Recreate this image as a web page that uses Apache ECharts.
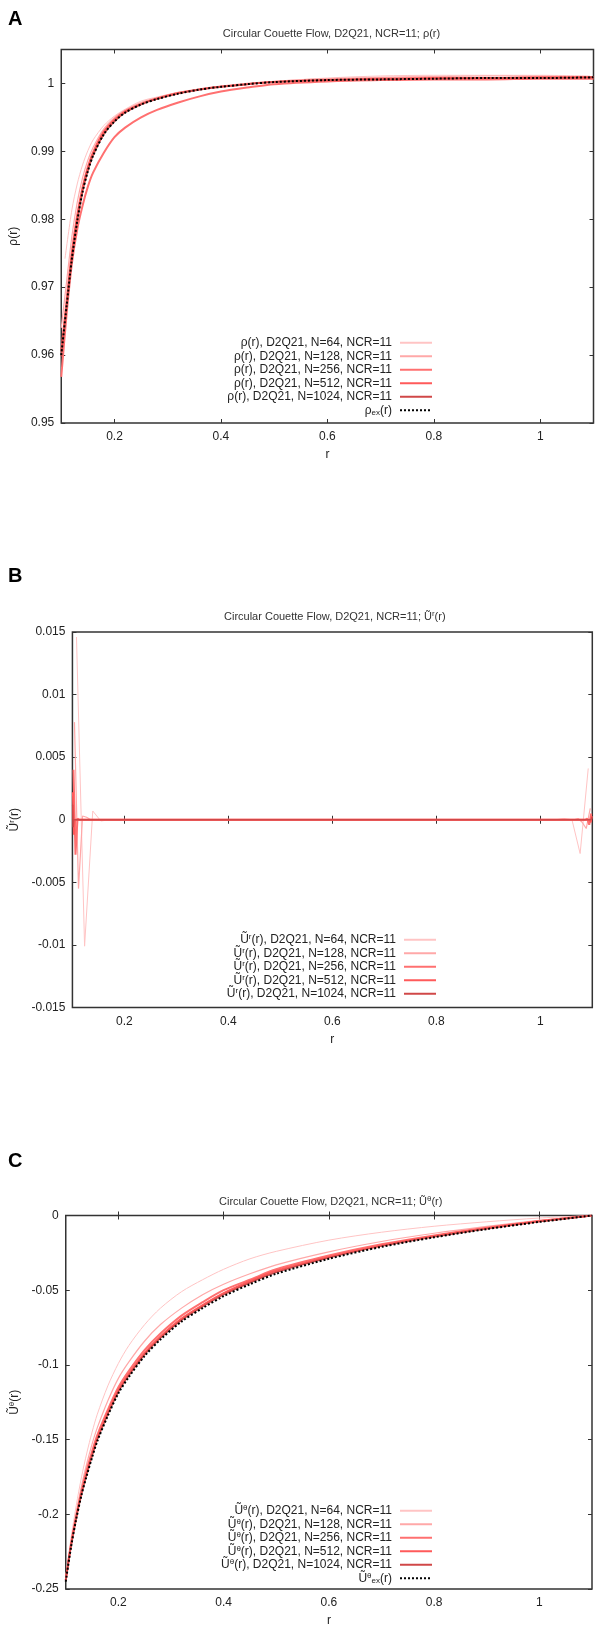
<!DOCTYPE html>
<html><head><meta charset="utf-8">
<script src="https://cdn.jsdelivr.net/npm/echarts@6/dist/echarts.min.js"></script>
<style>html,body{margin:0;padding:0;background:#fff}#c{width:601px;height:1637px}</style>
</head><body><div id="c"></div>
<script>
// ---------- tick labels ----------
const xTicks = [0.2, 0.4, 0.6, 0.8, 1];
const yTicksA = [0.95, 0.96, 0.97, 0.98, 0.99, 1];
const yTicksB = [-0.015, -0.01, -0.005, 0, 0.005, 0.01, 0.015];
const yTicksC = [-0.25, -0.2, -0.15, -0.1, -0.05, 0];

// ---------- panel A : rho(r) ----------
const rA = [0.1, 0.11, 0.12, 0.13, 0.14, 0.15, 0.16, 0.18, 0.2, 0.22, 0.25, 0.28, 0.32, 0.36, 0.4, 0.45, 0.5, 0.6, 0.7, 0.8, 0.9, 1.0, 1.1];
const rA64 = [0.107, 0.12, 0.13, 0.14, 0.15, 0.16, 0.18, 0.2, 0.22, 0.25, 0.28, 0.32, 0.36, 0.4, 0.45, 0.5, 0.6, 0.7, 0.8, 0.9, 1.0, 1.093];
const rhoN64 = [0.9742, 0.9814, 0.9852, 0.9880, 0.9901, 0.9917, 0.9938, 0.9952, 0.9962, 0.9974, 0.9980, 0.9987, 0.9992, 0.9996, 1.0000, 1.0003, 1.0008, 1.0011, 1.0012, 1.0012, 1.0012, 1.0011];
const rhoN128 = [0.9640, 0.9708, 0.9775, 0.9825, 0.9861, 0.9887, 0.9906, 0.9933, 0.9950, 0.9961, 0.9972, 0.9979, 0.9987, 0.9992, 0.9996, 1.0000, 1.0003, 1.0007, 1.0009, 1.0010, 1.0011, 1.0011, 1.0010];
const rhoN256 = [0.9568, 0.9660, 0.9735, 0.9785, 0.9820, 0.9848, 0.9869, 0.9898, 0.9921, 0.9935, 0.9950, 0.9961, 0.9972, 0.9981, 0.9988, 0.9994, 0.9999, 1.0003, 1.0005, 1.0006, 1.0006, 1.0007, 1.0007];
const rhoN512 = [0.9605, 0.9680, 0.9752, 0.9806, 0.9847, 0.9877, 0.9899, 0.9929, 0.9947, 0.9959, 0.9970, 0.9978, 0.9986, 0.9991, 0.9995, 0.9999, 1.0002, 1.0005, 1.0007, 1.0008, 1.0008, 1.0009, 1.0009];
const rhoN1024 = [0.9598, 0.9670, 0.9741, 0.9797, 0.9840, 0.9871, 0.9894, 0.9925, 0.9944, 0.9957, 0.9969, 0.9977, 0.9985, 0.9991, 0.9995, 0.9999, 1.0002, 1.0005, 1.0006, 1.0007, 1.0008, 1.0008, 1.0009];
const rhoEx = [0.9600, 0.9672, 0.9742, 0.9797, 0.9840, 0.9871, 0.9894, 0.9925, 0.9944, 0.9957, 0.9969, 0.9977, 0.9985, 0.9991, 0.9995, 0.9999, 1.0002, 1.0005, 1.0006, 1.0007, 1.0008, 1.0008, 1.0009];

// ---------- panel B : U^r(r) ----------
const rB64 = [0.1078, 0.1234, 0.1391, 0.1547, 0.1703, 1.0297, 1.0453, 1.0609, 1.0766, 1.0922];
const urN64 = [0.0146, -0.0101, 0.0007, -0.0001, 0, 0, 0.0001, 0, -0.0027, 0.0041];
const rB128 = [0.1039, 0.1117, 0.1195, 0.1273, 0.1352, 1.0648, 1.0727, 1.0805, 1.0883, 1.0961];
const urN128 = [0.0078, -0.0055, 0.0003, 0.0002, 0, 0, 0.0001, -0.0002, -0.0007, 0.0009];
const rB256 = [0.1020, 0.1059, 0.1098, 0.1137, 1.0863, 1.0902, 1.0941, 1.0980];
const urN256 = [0.0040, -0.0028, 0.0001, 0, 0, 0.0001, -0.0004, 0.0005];
const rB512 = [0.1010, 0.1029, 0.1049, 1.0951, 1.0971, 1.0990];
const urN512 = [0.0022, -0.0012, 0, 0, -0.0002, 0.0003];
const rB1024 = [0.1005, 0.1015, 0.1024, 1.0976, 1.0985, 1.0995];
const urN1024 = [0.0012, -0.0006, 0, 0, -0.0001, 0.0002];

// ---------- panel C : U^theta(r) ----------
const rC = [0.1, 0.11, 0.12, 0.13, 0.14, 0.15, 0.16, 0.18, 0.2, 0.22, 0.25, 0.28, 0.32, 0.36, 0.4, 0.45, 0.5, 0.6, 0.7, 0.8, 0.9, 1.0, 1.1];
const utN64 = [-0.242, -0.216, -0.194, -0.175, -0.159, -0.145, -0.133, -0.114, -0.099, -0.087, -0.073, -0.062, -0.051, -0.043, -0.036, -0.029, -0.024, -0.0165, -0.0112, -0.0072, -0.0042, -0.0017, 0];
const utN128 = [-0.243, -0.219, -0.199, -0.181, -0.166, -0.153, -0.142, -0.124, -0.109, -0.098, -0.084, -0.073, -0.062, -0.053, -0.046, -0.039, -0.033, -0.0243, -0.0174, -0.0119, -0.0073, -0.0033, 0];
const utN256 = [-0.244, -0.220, -0.201, -0.184, -0.170, -0.158, -0.147, -0.130, -0.115, -0.104, -0.090, -0.079, -0.067, -0.058, -0.050, -0.043, -0.036, -0.0268, -0.0193, -0.0133, -0.0082, -0.0037, 0];
const utN512 = [-0.244, -0.221, -0.202, -0.186, -0.172, -0.160, -0.149, -0.132, -0.117, -0.106, -0.092, -0.081, -0.069, -0.060, -0.052, -0.044, -0.037, -0.0277, -0.0200, -0.0138, -0.0085, -0.0039, 0];
const utN1024 = [-0.244, -0.221, -0.202, -0.186, -0.173, -0.161, -0.150, -0.133, -0.118, -0.107, -0.093, -0.082, -0.070, -0.061, -0.053, -0.045, -0.038, -0.0283, -0.0205, -0.0142, -0.0088, -0.0041, 0];
const utEx = [-0.245, -0.222, -0.203, -0.187, -0.174, -0.162, -0.151, -0.134, -0.119, -0.108, -0.094, -0.083, -0.071, -0.062, -0.054, -0.046, -0.039, -0.029, -0.021, -0.0146, -0.0091, -0.0043, 0];

// ---------- names ----------
const Ns = ['64', '128', '256', '512', '1024'];
const namesA = Ns.map(n => 'ρ(r), D2Q21, N=' + n + ', NCR=11').concat(['ρ_ex(r)']);
const namesB = Ns.map(n => 'Ũ^r(r), D2Q21, N=' + n + ', NCR=11');
const namesC = Ns.map(n => 'Ũ^θ(r), D2Q21, N=' + n + ', NCR=11').concat(['Ũ^θ_ex(r)']);
const titles = [
  'Circular Couette Flow, D2Q21, NCR=11; ρ(r)',
  'Circular Couette Flow, D2Q21, NCR=11; Ũ{sup|r}(r)',
  'Circular Couette Flow, D2Q21, NCR=11; Ũ{sup|θ}(r)'
];
const yNames = ['ρ(r)', 'Ũ{sup|r}(r)', 'Ũ{sup|θ}(r)'];
const panelLetters = ['A', 'B', 'C'];

// ---------- styles ----------
const FONT = 'Liberation Sans';
const lineColors = ['#ffc4c4', '#ffa8a8', '#ff7070', '#ff5a5a', '#d04848'];
const lineWidths = [1, 1.2, 2, 2, 1.5];
const rich = {
  sup: {fontSize: 8, fontFamily: FONT, verticalAlign: 'top', padding: [0, 0, 5, 0]},
  sub: {fontSize: 8, fontFamily: FONT, verticalAlign: 'bottom', padding: [5, 0, 0, 0]}
};
function fmt(name) {
  return name.replace('^r', '{sup|r}').replace('^θ', '{sup|θ}').replace('_ex', '{sub|ex}');
}

const grids = [
  {left: 59.5, top: 49.5, width: 534, height: 373.5},
  {left: 67.3, top: 632, width: 525, height: 375.5},
  {left: 59.5, top: 1215.5, width: 532.5, height: 373.5}
];
const yRanges = [[0.95, 1.005], [-0.015, 0.015], [-0.25, 0]];
const yTickSets = [yTicksA, yTicksB, yTicksC];
const yNameGaps = [38, 45, 38];
const legendPos = [{top: 336, right: 168}, {top: 933, right: 164}, {top: 1504, right: 168}];
const titleTops = [23, 605, 1190];
const letterTops = [4, 561, 1146];

const xAxes = [], yAxes = [], series = [], legends = [], titleComps = [];
grids.forEach((g, p) => {
  g.show = true; g.borderColor = '#333'; g.borderWidth = 1.5;
  const tickStyle = {inside: true, length: 4, lineStyle: {color: '#333', width: 1}};
  xAxes.push({
    type: 'value', gridIndex: p, position: 'bottom', min: 0.1, max: 1.1,
    axisLine: {show: false}, splitLine: {show: false},
    axisTick: Object.assign({customValues: xTicks}, tickStyle),
    axisLabel: {customValues: xTicks, margin: 8, fontSize: 12, fontFamily: FONT, color: '#222'},
    name: 'r', nameLocation: 'middle', nameGap: 26,
    nameTextStyle: {fontSize: 12, fontFamily: FONT, color: '#222'}
  });
  xAxes.push({
    type: 'value', gridIndex: p, position: 'top', min: 0.1, max: 1.1,
    axisLine: {show: false}, splitLine: {show: false},
    axisTick: Object.assign({customValues: xTicks}, tickStyle),
    axisLabel: {show: false}
  });
  yAxes.push({
    type: 'value', gridIndex: p, position: 'left', min: yRanges[p][0], max: yRanges[p][1],
    axisLine: {show: false}, splitLine: {show: false},
    axisTick: Object.assign({customValues: yTickSets[p]}, tickStyle),
    axisLabel: {customValues: yTickSets[p], margin: 7, fontSize: 12, fontFamily: FONT, color: '#222'},
    name: yNames[p], nameLocation: 'middle', nameGap: yNameGaps[p],
    nameTextStyle: {fontSize: 12, fontFamily: FONT, color: '#222', rich: rich}
  });
  yAxes.push({
    type: 'value', gridIndex: p, position: 'right', min: yRanges[p][0], max: yRanges[p][1],
    axisLine: {show: false}, splitLine: {show: false},
    axisTick: Object.assign({customValues: yTickSets[p]}, tickStyle),
    axisLabel: {show: false}
  });
  titleComps.push({
    text: panelLetters[p], left: 3, top: letterTops[p],
    textStyle: {fontSize: 20, fontWeight: 'bold', fontFamily: FONT, color: '#000'}
  });
  titleComps.push({
    text: titles[p], left: g.left + g.width / 2, textAlign: 'center', top: titleTops[p],
    textStyle: {fontSize: 11, fontWeight: 'normal', fontFamily: FONT, color: '#333', rich: rich}
  });
});

function mk(name, xs, ys, p, color, width, type, smooth, z) {
  return {
    type: 'line', name: name, xAxisIndex: 2 * p, yAxisIndex: 2 * p,
    data: xs.map((x, i) => [x, ys[i]]),
    symbol: 'none', showSymbol: false, smooth: smooth,
    lineStyle: {color: color, width: width, type: type},
    itemStyle: {color: color}, z: z, silent: true
  };
}

// panel A
const seriesA = [[rA64, rhoN64], [rA, rhoN128], [rA, rhoN256], [rA, rhoN512], [rA, rhoN1024]];
seriesA.forEach((s, i) => series.push(mk(namesA[i], s[0], s[1], 0, lineColors[i], lineWidths[i], 'solid', 0.3, 2 + i)));
series.push(mk(namesA[5], rA, rhoEx, 0, '#000', 2, 'dotted', 0.3, 10));
// panel B
const seriesB = [[rB64, urN64], [rB128, urN128], [rB256, urN256], [rB512, urN512], [rB1024, urN1024]];
seriesB.forEach((s, i) => series.push(mk(namesB[i], s[0], s[1], 1, lineColors[i], lineWidths[i], 'solid', false, 2 + i)));
// panel C
const seriesC = [utN64, utN128, utN256, utN512, utN1024];
seriesC.forEach((s, i) => series.push(mk(namesC[i], rC, s, 2, lineColors[i], lineWidths[i], 'solid', 0.3, 2 + i)));
series.push(mk(namesC[5], rC, utEx, 2, '#000', 2, 'dotted', 0.3, 10));

[namesA, namesB, namesC].forEach((names, p) => {
  legends.push(Object.assign({
    orient: 'vertical', align: 'right', itemWidth: 32, itemHeight: 13.5, itemGap: 0,
    padding: 0, selectedMode: false, data: names, formatter: fmt,
    itemStyle: {opacity: 0},
    textStyle: {fontSize: 12, fontFamily: FONT, color: '#222', lineHeight: 13.5, padding: [0, 3, 0, 0], rich: rich}
  }, legendPos[p]));
});

const chart = echarts.init(document.getElementById('c'), null, {renderer: 'canvas'});
chart.setOption({
  animation: false,
  backgroundColor: '#fff',
  title: titleComps,
  grid: grids,
  xAxis: xAxes,
  yAxis: yAxes,
  legend: legends,
  series: series
});
</script></body></html>
